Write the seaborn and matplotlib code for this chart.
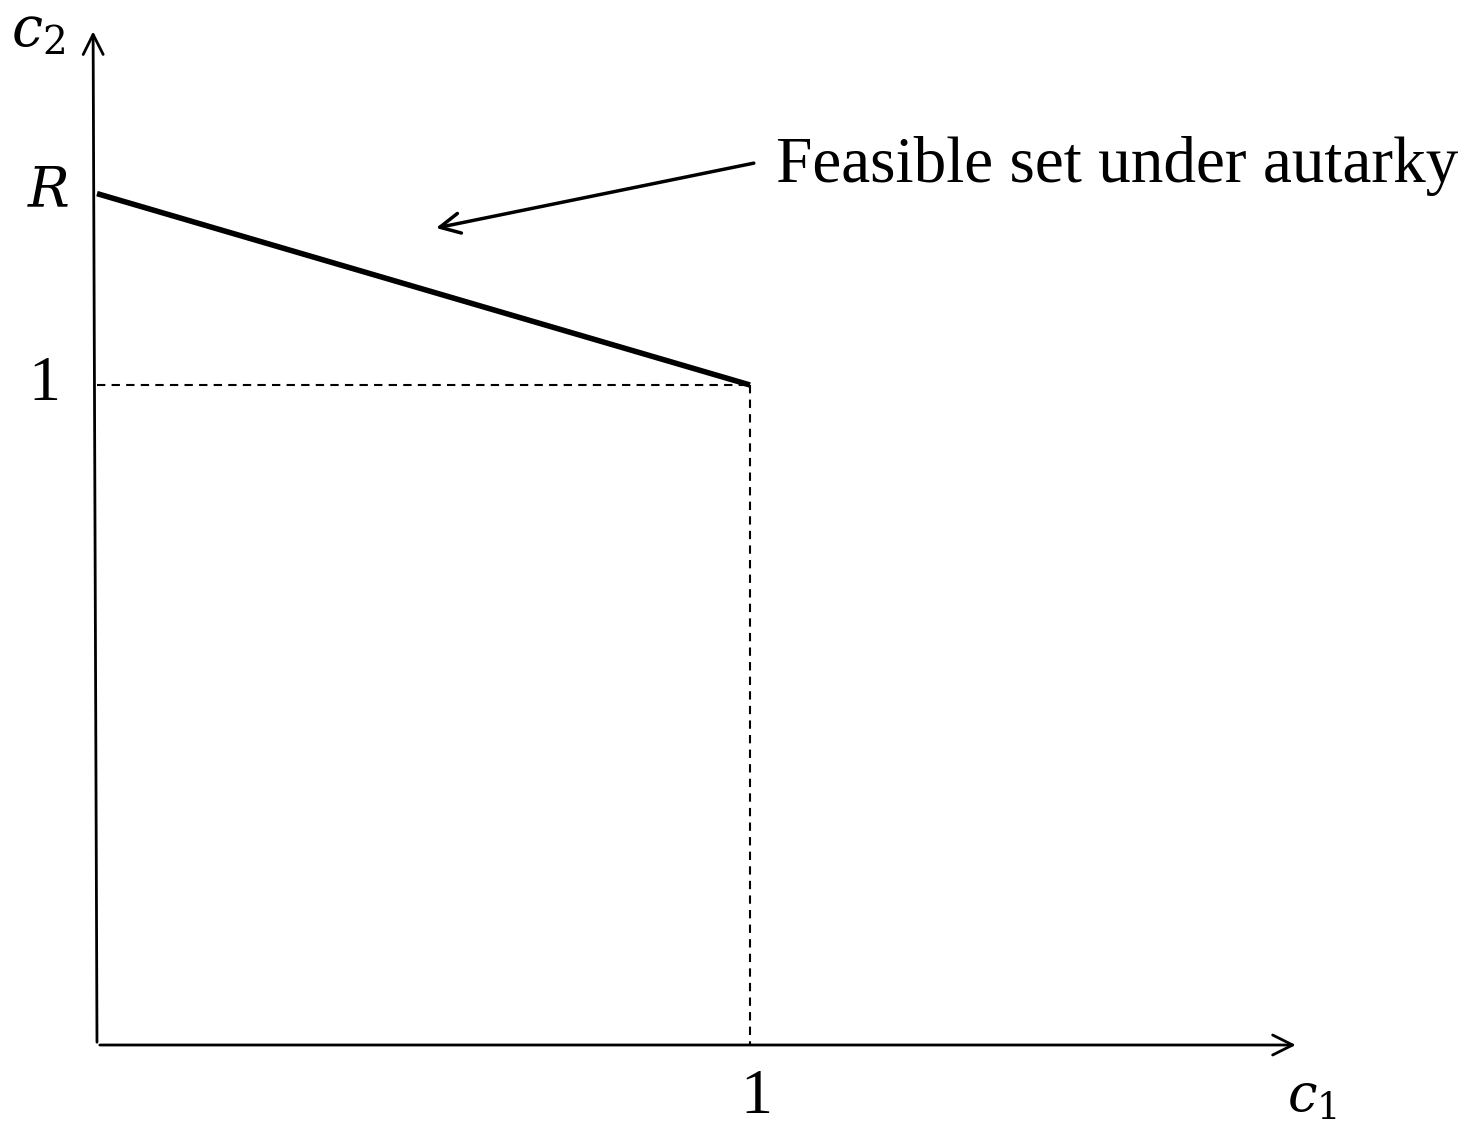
import matplotlib
matplotlib.use("Agg")
import matplotlib.pyplot as plt
import pandas as pd
import seaborn as sns

# Valores do diagrama (unidades de c1, c2)
R_VALUE = 1.29
feasible_c1 = [0.0, 1.0]
feasible_c2 = [R_VALUE, 1.0]
guide_h_c1 = [0.0, 1.0]
guide_h_c2 = [1.0, 1.0]
guide_v_c1 = [1.0, 1.0]
guide_v_c2 = [1.0, 0.0]
x_axis_end = 1.84
y_axis_end = 1.54
annot_text = "Feasible set under autarky"
annot_tip = (0.515, 1.237)
annot_tail = (1.01, 1.337)

sns.set_theme(style="white")
plt.rcParams["font.family"] = ["Liberation Serif", "DejaVu Serif"]
plt.rcParams["mathtext.fontset"] = "dejavuserif"
plt.rcParams["text.color"] = "black"

fig = plt.figure(figsize=(14.77, 11.24), dpi=100)
ax = fig.add_axes([0, 0, 1, 1])
ax.set_xlim(-97 / 653, (1477 - 97) / 653)
ax.set_ylim((1045 - 1124) / 660, 1045 / 660)
ax.axis("off")

df = pd.DataFrame({"c1": feasible_c1, "c2": feasible_c2})
sns.lineplot(data=df, x="c1", y="c2", color="black", lw=4, ax=ax,
             solid_capstyle="butt")
sns.lineplot(x=guide_h_c1, y=guide_h_c2, color="black", lw=1.5,
             linestyle=(0, (4, 3)), ax=ax, estimator=None)
sns.lineplot(x=guide_v_c1, y=guide_v_c2, color="black", lw=1.5,
             linestyle=(0, (4, 3)), ax=ax, sort=False, estimator=None)

# eixos com seta aberta
arrow = dict(arrowstyle="->,head_length=1.2,head_width=0.6", color="black", lw=2)
ax.annotate("", xy=(x_axis_end, 0), xytext=(0, 0), arrowprops=arrow)
ax.annotate("", xy=(-0.006, y_axis_end), xytext=(0, 0), arrowprops=arrow)

# seta da anotação
ax.annotate("", xy=annot_tip, xytext=annot_tail,
            arrowprops=dict(arrowstyle="->,head_length=1.2,head_width=0.6",
                            color="black", lw=2.5))
ax.text(annot_tail[0] + 0.03, annot_tail[1] - 0.005, annot_text,
        fontsize=47, va="center", ha="left", color="black")

ax.text(-0.075, R_VALUE, r"$R$", fontsize=40, ha="center", va="center",
        color="black")
ax.text(-0.08, 1.0, "1", fontsize=46, ha="center", va="center", color="black")
ax.text(1.01, -0.08, "1", fontsize=46, ha="center", va="center", color="black")
ax.text(1.86, -0.082, r"$c_1$", fontsize=38, ha="center", va="center",
        color="black")
ax.text(-0.09, 1.535, r"$c_2$", fontsize=40, ha="center", va="center",
        color="black")

fig.savefig("out.png", dpi=100, facecolor="white")
plt.close(fig)
